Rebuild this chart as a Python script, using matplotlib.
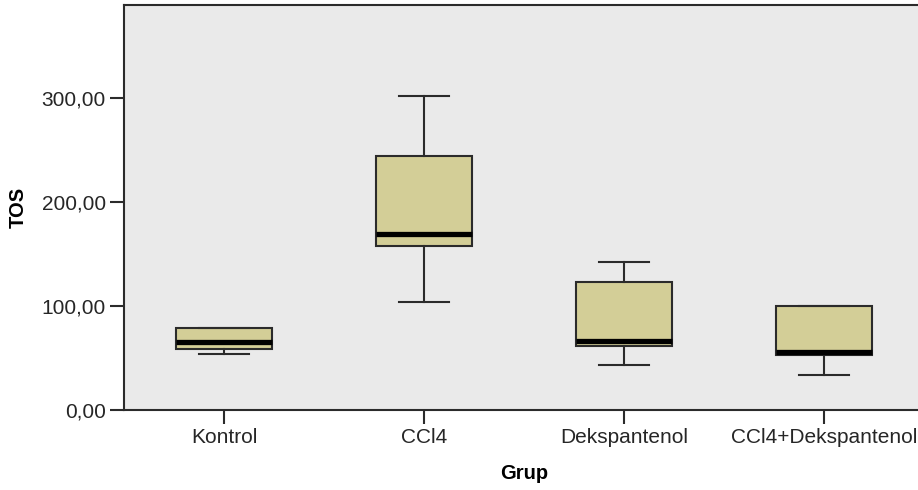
import matplotlib
matplotlib.use("Agg")
import matplotlib.pyplot as plt
from matplotlib.ticker import FuncFormatter

plt.rcParams['font.family'] = ['Liberation Sans', 'DejaVu Sans']

groups = ["Kontrol", "CCl4", "Dekspantenol", "CCl4+Dekspantenol"]
whisker_low = [53.5, 103.8, 43.6, 34.0]
q1 = [59.0, 158.0, 61.2, 53.2]
medians = [65.0, 169.0, 66.8, 55.5]
q3 = [78.5, 243.9, 122.8, 99.7]
whisker_high = [78.5, 302.2, 142.0, 99.7]

stats = []
for name, lo, a, m, b, hi in zip(groups, whisker_low, q1, medians, q3, whisker_high):
    stats.append({"label": name, "whislo": lo, "q1": a, "med": m, "q3": b, "whishi": hi, "fliers": []})

fig = plt.figure(figsize=(9.18, 4.9), dpi=100)
ax = fig.add_axes([124 / 918, 80 / 490, 800 / 918, 405 / 490])
ax.set_facecolor("#EAEAEA")

line_col = "#2b2b2b"
ax.bxp(stats, positions=range(len(groups)), widths=0.48, patch_artist=True,
       showfliers=False,
       boxprops=dict(facecolor="#D3CE97", edgecolor=line_col, linewidth=1.5),
       medianprops=dict(color="black", linewidth=3.8, solid_capstyle="butt"),
       whiskerprops=dict(color=line_col, linewidth=1.5),
       capprops=dict(color=line_col, linewidth=1.5),
       capwidths=0.25)

ax.set_xlim(-0.5, 3.5)
ax.set_ylim(0, 389.4)
ax.set_yticks([0, 100, 200, 300])
ax.yaxis.set_major_formatter(FuncFormatter(lambda v, p: "{:.2f}".format(v).replace(".", ",")))
ax.set_xticks(range(len(groups)))
ax.set_xticklabels(groups)

for s in ["left", "bottom", "top"]:
    ax.spines[s].set_color(line_col)
    ax.spines[s].set_linewidth(1.5)
ax.spines["right"].set_visible(False)

ax.tick_params(axis="both", direction="out", length=10, width=1.5, color=line_col,
               labelsize=15, labelcolor="#262626", pad=3)

ax.set_xlabel("Grup", fontsize=14.5, fontweight="bold", labelpad=12)
ax.set_ylabel("TOS", fontsize=14.5, fontweight="bold", labelpad=10)

fig.savefig("out.png", dpi=100)
